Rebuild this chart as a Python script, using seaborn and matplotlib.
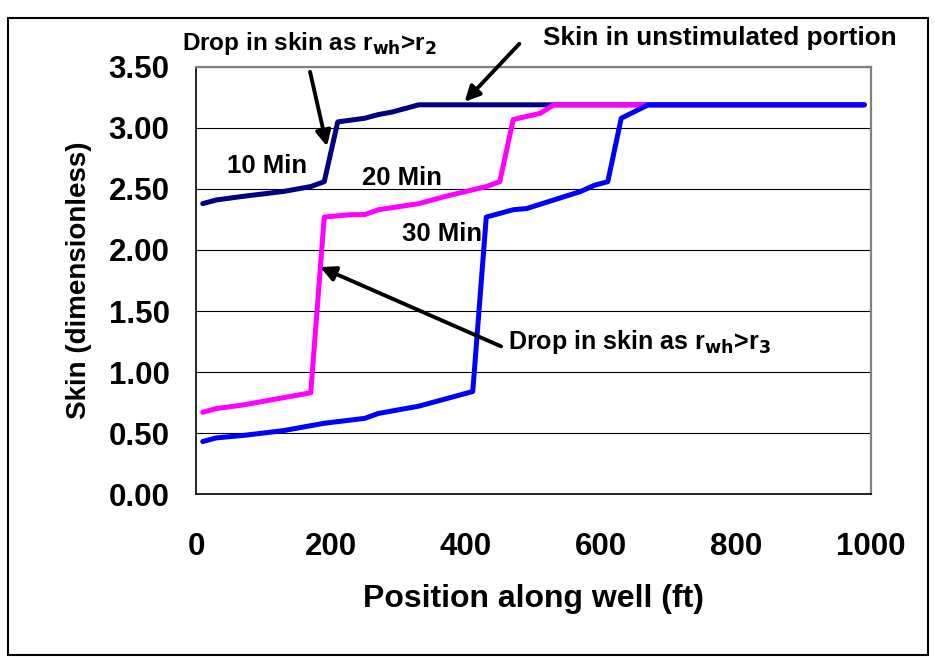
import matplotlib
matplotlib.use("Agg")
import matplotlib.pyplot as plt
from matplotlib.patches import Rectangle
import pandas as pd
import seaborn as sns

# Skin profiles along the well at three treatment times
x_10 = [10, 30, 70, 130, 170, 190, 210, 250, 270, 290, 330, 990]
s_10 = [2.38, 2.41, 2.44, 2.48, 2.52, 2.56, 3.05, 3.08, 3.11, 3.13, 3.19, 3.19]

x_20 = [10, 30, 70, 130, 170, 190, 230, 250, 270, 330, 370, 430, 450, 470, 510, 530, 990]
s_20 = [0.67, 0.70, 0.73, 0.79, 0.83, 2.27, 2.29, 2.29, 2.33, 2.38, 2.44, 2.52, 2.56,
        3.07, 3.12, 3.19, 3.19]

x_30 = [10, 30, 70, 130, 190, 250, 270, 330, 370, 410, 430, 470, 490, 530, 570, 590,
        610, 630, 670, 990]
s_30 = [0.43, 0.46, 0.48, 0.52, 0.58, 0.62, 0.66, 0.72, 0.78, 0.84, 2.27, 2.33, 2.34,
        2.41, 2.48, 2.53, 2.56, 3.08, 3.19, 3.19]

series_names = ["10 Min", "20 Min", "30 Min"]
series_colors = ["#000080", "#FF00FF", "#0000FF"]

x_ticks = [0, 200, 400, 600, 800, 1000]
y_ticks = [0.0, 0.5, 1.0, 1.5, 2.0, 2.5, 3.0, 3.5]

df = pd.concat([
    pd.DataFrame({"pos": x_10, "skin": s_10, "time": series_names[0]}),
    pd.DataFrame({"pos": x_20, "skin": s_20, "time": series_names[1]}),
    pd.DataFrame({"pos": x_30, "skin": s_30, "time": series_names[2]}),
], ignore_index=True)

sns.set_style("white")
plt.rcParams["font.family"] = ["Liberation Sans", "DejaVu Sans"]
plt.rcParams["font.weight"] = "bold"
plt.rcParams["mathtext.default"] = "bf"
for key in ("text.color", "axes.labelcolor", "xtick.color", "ytick.color"):
    plt.rcParams[key] = "black"

fig = plt.figure(figsize=(9.35, 6.6), dpi=100)
fig.patch.set_facecolor("white")
ax = fig.add_axes([0.2096, 0.2515, 0.722, 0.647])

sns.lineplot(data=df, x="pos", y="skin", hue="time", hue_order=series_names,
             palette=dict(zip(series_names, series_colors)), estimator=None,
             sort=False, linewidth=3.6, legend=False, ax=ax,
             solid_capstyle="round", solid_joinstyle="round")

ax.set_xlim(0, 1000)
ax.set_ylim(0, 3.5)
ax.set_xticks(x_ticks)
ax.set_xticklabels([f"{v}" for v in x_ticks])
ax.set_yticks(y_ticks)
ax.set_yticklabels([f"{v:.2f}" for v in y_ticks])

ax.yaxis.grid(True, color="black", linewidth=0.8)
ax.xaxis.grid(False)
ax.set_axisbelow(True)

for side in ("left", "bottom"):
    ax.spines[side].set_color("black")
    ax.spines[side].set_linewidth(1.2)
for side in ("top", "right"):
    ax.spines[side].set_color("#808080")
    ax.spines[side].set_linewidth(1.6)

ax.tick_params(axis="both", direction="out", length=8, width=1, color="black",
               labelsize=22.5, labelcolor="black")
ax.tick_params(axis="x", pad=19)
ax.tick_params(axis="y", pad=11)
for lbl in ax.get_xticklabels() + ax.get_yticklabels():
    lbl.set_fontweight("bold")

ax.set_xlabel("Position along well (ft)", fontsize=23, fontweight="bold", labelpad=16)
ax.set_ylabel("Skin (dimensionless)", fontsize=20, fontweight="bold", labelpad=12)

# Curve labels
ax.text(105, 2.69, "10 Min", fontsize=18.5, fontweight="bold", ha="center", va="center")
ax.text(305, 2.59, "20 Min", fontsize=18.5, fontweight="bold", ha="center", va="center")
ax.text(364, 2.13, "30 Min", fontsize=18.5, fontweight="bold", ha="center", va="center")

arrow_style = dict(arrowstyle="-|>,head_length=0.9,head_width=0.45", color="black",
                   lw=2.8, shrinkA=0, shrinkB=0)

ax.annotate("", xy=(194, 2.85), xytext=(169, 3.46), arrowprops=arrow_style,
            annotation_clip=False)
ax.text(-21, 3.69, r"Drop in skin as r$_{\mathbf{wh}}$>r$_{\mathbf{2}}$", fontsize=17.5,
        fontweight="bold", ha="left", va="center", clip_on=False)

ax.annotate("", xy=(398, 3.215), xytext=(479, 3.69), arrowprops=arrow_style,
            annotation_clip=False)
ax.text(514, 3.735, "Skin in unstimulated portion", fontsize=18.8, fontweight="bold",
        ha="left", va="center", clip_on=False)

ax.annotate("", xy=(184, 1.86), xytext=(452, 1.21), arrowprops=arrow_style)
ax.text(462, 1.25, r"Drop in skin as r$_{\mathbf{wh}}$>r$_{\mathbf{3}}$", fontsize=18,
        fontweight="bold", ha="left", va="center")

# Outer frame around the whole figure
fig.patches.append(Rectangle((8 / 935, 5 / 660), 920 / 935, 637 / 660,
                             transform=fig.transFigure, fill=False,
                             edgecolor="black", linewidth=1.5))

fig.savefig("out.png", dpi=100, facecolor="white")
